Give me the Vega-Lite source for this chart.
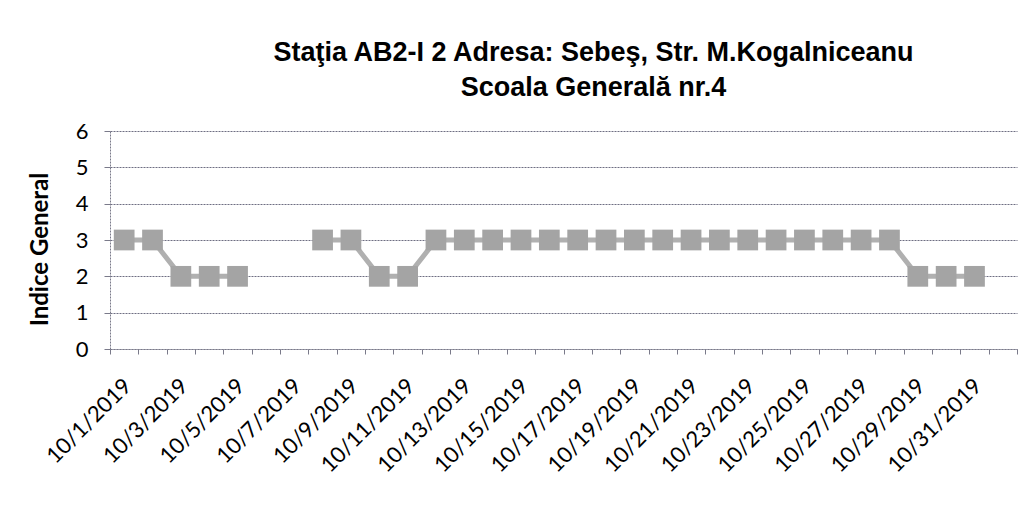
{
  "$schema": "https://vega.github.io/schema/vega-lite/v6.json",
  "width": 907,
  "height": 218,
  "autosize": {"type": "none"},
  "padding": {"left": 110, "top": 131, "right": 15, "bottom": 157},
  "background": "white",
  "title": {
    "text": ["Staţia AB2-I 2  Adresa: Sebeş, Str. M.Kogalniceanu", "Scoala Generală nr.4"],
    "font": "Liberation Sans",
    "fontSize": 27,
    "fontWeight": "bold",
    "color": "black",
    "anchor": "middle",
    "dx": 30,
    "offset": 18,
    "lineHeight": 35
  },
  "data": {
    "values": [
      {"date": "10/1/2019", "v": 3},
      {"date": "10/2/2019", "v": 3},
      {"date": "10/3/2019", "v": 2},
      {"date": "10/4/2019", "v": 2},
      {"date": "10/5/2019", "v": 2},
      {"date": "10/6/2019", "v": null},
      {"date": "10/7/2019", "v": null},
      {"date": "10/8/2019", "v": 3},
      {"date": "10/9/2019", "v": 3},
      {"date": "10/10/2019", "v": 2},
      {"date": "10/11/2019", "v": 2},
      {"date": "10/12/2019", "v": 3},
      {"date": "10/13/2019", "v": 3},
      {"date": "10/14/2019", "v": 3},
      {"date": "10/15/2019", "v": 3},
      {"date": "10/16/2019", "v": 3},
      {"date": "10/17/2019", "v": 3},
      {"date": "10/18/2019", "v": 3},
      {"date": "10/19/2019", "v": 3},
      {"date": "10/20/2019", "v": 3},
      {"date": "10/21/2019", "v": 3},
      {"date": "10/22/2019", "v": 3},
      {"date": "10/23/2019", "v": 3},
      {"date": "10/24/2019", "v": 3},
      {"date": "10/25/2019", "v": 3},
      {"date": "10/26/2019", "v": 3},
      {"date": "10/27/2019", "v": 3},
      {"date": "10/28/2019", "v": 3},
      {"date": "10/29/2019", "v": 2},
      {"date": "10/30/2019", "v": 2},
      {"date": "10/31/2019", "v": 2},
      {"date": "11/1/2019", "v": null}
    ]
  },
  "encoding": {
    "x": {
      "field": "date",
      "type": "ordinal",
      "sort": null,
      "bandPosition": 0.5,
      "scale": {"type": "band", "paddingInner": 0, "paddingOuter": 0},
      "axis": {
        "title": null,
        "labelAngle": -45,
        "labelFont": "Lato",
        "labelFontSize": 22,
        "labelColor": "black",
        "labelPadding": 21,
        "labelOffset": -4,
        "labelExpr": "(toNumber(split(datum.value, '/')[1]) % 2 == 1 && datum.value != '11/1/2019') ? datum.value : ''",
        "tickBand": "extent",
        "tickSize": 5,
        "tickColor": "#7a7a8a",
        "domainColor": "#7a7a8a",
        "domainDash": [2, 1],
        "grid": false
      }
    },
    "y": {
      "field": "v",
      "type": "quantitative",
      "scale": {"domain": [0, 6], "nice": false, "zero": true},
      "axis": {
        "title": "Indice General",
        "titleFont": "Lato",
        "titleFontSize": 24,
        "titleFontWeight": "bold",
        "titleColor": "black",
        "titleX": -58,
        "titleY": 118,
        "titleBaseline": "bottom",
        "labelFont": "Lato",
        "labelFontSize": 22,
        "labelColor": "black",
        "labelPadding": 16,
        "values": [0, 1, 2, 3, 4, 5, 6],
        "tickSize": 6,
        "tickColor": "#7a7a8a",
        "domainColor": "#7a7a8a",
        "domainDash": [2, 1],
        "grid": true,
        "gridColor": "#6e6e82",
        "gridDash": [2, 1],
        "gridWidth": 1
      }
    }
  },
  "layer": [
    {
      "mark": {"type": "line", "color": "#b0b0b0", "strokeWidth": 5, "invalid": "break-paths-show-domains"}
    },
    {
      "mark": {"type": "square", "color": "#a4a4a4", "opacity": 1, "size": 430, "filled": true}
    }
  ],
  "config": {"view": {"stroke": null}}
}
